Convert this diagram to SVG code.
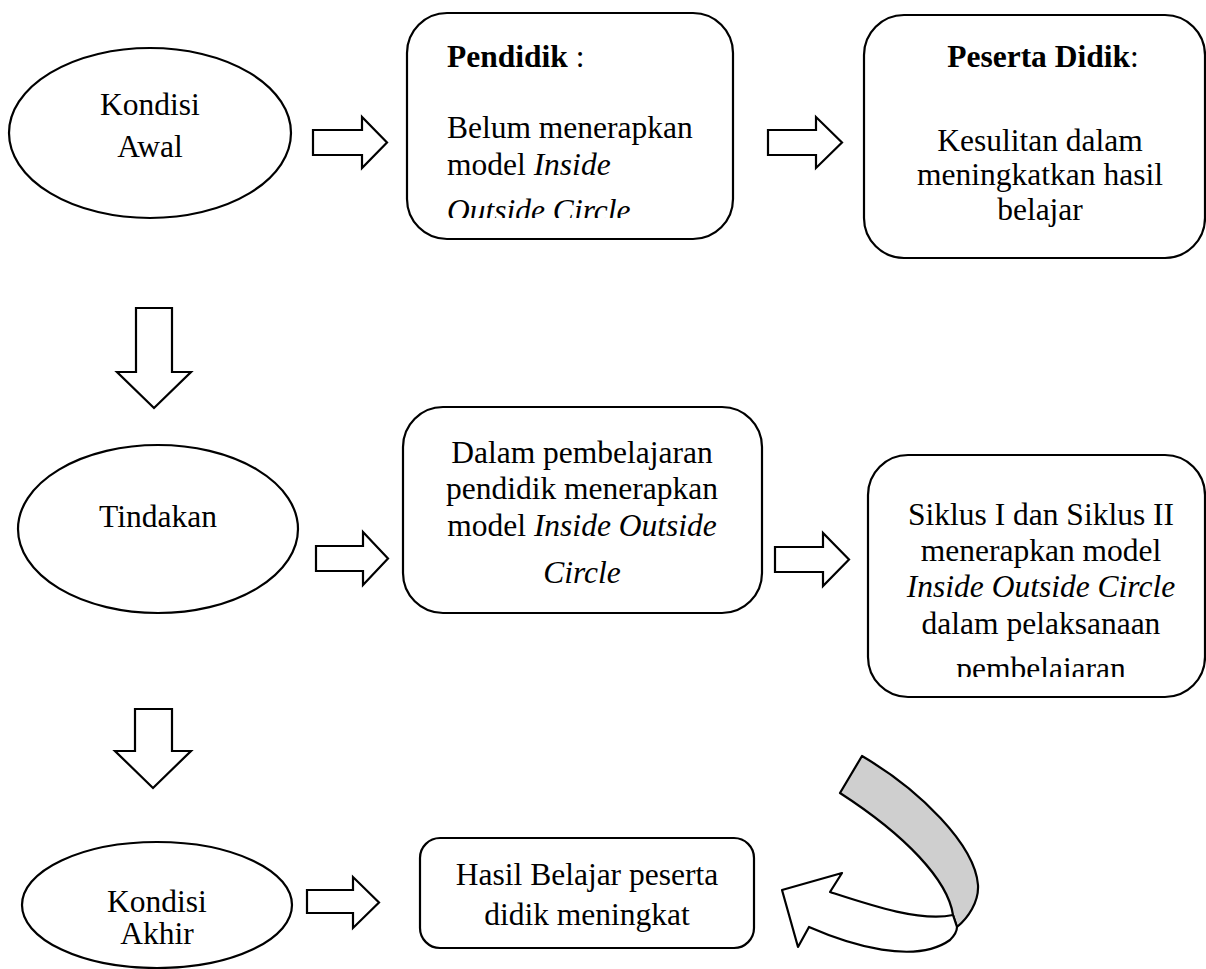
<svg xmlns="http://www.w3.org/2000/svg" width="1206" height="969" viewBox="0 0 1206 969">
<style>
.s{fill:#fff;stroke:#000;stroke-width:2.2}
.t{font-family:"Liberation Serif","Times New Roman",serif;font-size:31.5px;fill:#000}
.c{text-anchor:middle}
.b{font-weight:bold}
.i{font-style:italic}
</style>
<defs>
<clipPath id="clipP"><rect x="400" y="0" width="340" height="218"/></clipPath>
<clipPath id="clipS"><rect x="860" y="450" width="346" height="227"/></clipPath>
</defs>
<rect width="1206" height="969" fill="#fff"/>
<g id="connectors">
<path class="s" d="M313,130 H362 V117 L387,142.5 L362,168 V155 H313 Z"/>
<path class="s" d="M768,130 H816 V117 L842,142.5 L816,168 V155 H768 Z"/>
<path class="s" d="M316,546 H363 V532 L388,558.5 L363,585 V571 H316 Z"/>
<path class="s" d="M775,547 H823 V533 L849,559.5 L823,586 V572 H775 Z"/>
<path class="s" d="M307,890 H353 V877 L379,902.5 L353,928 V913 H307 Z"/>
<path class="s" d="M136,308 H172 V372 H191 L154,408 L117,372 H136 Z"/>
<path class="s" d="M135,709 H172 V751 H191 L153,788 L115,751 H135 Z"/>
<g id="curved-arrow">
<path fill="#cfcfcf" stroke="#000" stroke-width="2.2" stroke-linejoin="round" d="M862,756 C920,790 975,845 978,885 C979,902 968,918 957,927 L953,915 C948,880 905,835 840,793 Z"/>
<path class="s" stroke-linejoin="round" d="M953,915 C920,922 870,905 830,892 L842,873 L782,890 L798,947 L809,927 C850,945 915,965 950,940 C955,935 957,930 957,927 Z"/>
</g>
</g>
<g id="kondisi-awal">
<ellipse class="s" cx="150" cy="133" rx="141" ry="85"/>
<text class="t c" x="150" y="115">Kondisi</text>
<text class="t c" x="150" y="157">Awal</text>
</g>
<g id="pendidik">
<rect class="s" x="407" y="13" width="326" height="226" rx="40"/>
<g clip-path="url(#clipP)">
<text class="t" x="447" y="67"><tspan class="b">Pendidik</tspan> :</text>
<text class="t" x="447" y="138">Belum menerapkan</text>
<text class="t" x="447" y="175">model <tspan class="i">Inside</tspan></text>
<text class="t i" x="447" y="221">Outside Circle</text>
</g>
</g>
<g id="peserta-didik">
<rect class="s" x="864" y="15" width="341" height="243" rx="40"/>
<text class="t c" x="1043" y="67"><tspan class="b">Peserta Didik</tspan>:</text>
<text class="t c" x="1040" y="151">Kesulitan dalam</text>
<text class="t c" x="1040" y="185">meningkatkan hasil</text>
<text class="t c" x="1040" y="220">belajar</text>
</g>
<g id="tindakan">
<ellipse class="s" cx="158" cy="529" rx="140" ry="84"/>
<text class="t c" x="158" y="527">Tindakan</text>
</g>
<g id="dalam-pembelajaran">
<rect class="s" x="403" y="407" width="359" height="206" rx="40"/>
<text class="t c" x="582" y="463">Dalam pembelajaran</text>
<text class="t c" x="582" y="499">pendidik menerapkan</text>
<text class="t c" x="582" y="536">model <tspan class="i">Inside Outside</tspan></text>
<text class="t c i" x="582" y="583">Circle</text>
</g>
<g id="siklus">
<rect class="s" x="868" y="455" width="337" height="242" rx="40"/>
<g clip-path="url(#clipS)">
<text class="t c" x="1041" y="525">Siklus I dan Siklus II</text>
<text class="t c" x="1041" y="561">menerapkan model</text>
<text class="t c i" x="1041" y="597">Inside Outside Circle</text>
<text class="t c" x="1041" y="634">dalam pelaksanaan</text>
<text class="t c" x="1041" y="679">pembelajaran</text>
</g>
</g>
<g id="kondisi-akhir">
<ellipse class="s" cx="157" cy="905" rx="135" ry="63"/>
<text class="t c" x="157" y="912">Kondisi</text>
<text class="t c" x="157" y="944">Akhir</text>
</g>
<g id="hasil-belajar">
<rect class="s" x="420" y="838" width="334" height="110" rx="20"/>
<text class="t c" x="587" y="885">Hasil Belajar peserta</text>
<text class="t c" x="587" y="925">didik meningkat</text>
</g>
</svg>
